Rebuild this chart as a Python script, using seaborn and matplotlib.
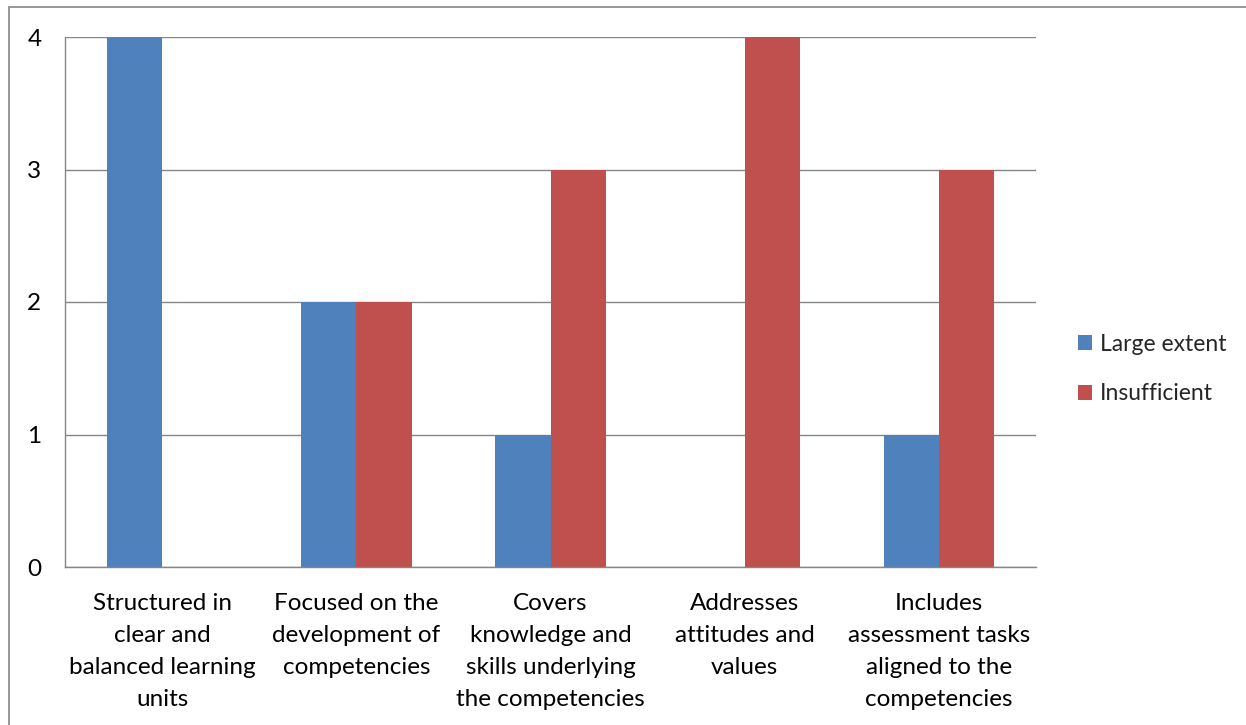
import matplotlib
matplotlib.use("Agg")
import matplotlib.pyplot as plt
from matplotlib.patches import Rectangle
import seaborn as sns
import pandas as pd
import numpy as np

categories = [
    "Structured in\nclear and\nbalanced learning\nunits",
    "Focused on the\ndevelopment of\ncompetencies",
    "Covers\nknowledge and\nskills underlying\nthe competencies",
    "Addresses\nattitudes and\nvalues",
    "Includes\nassessment tasks\naligned to the\ncompetencies",
]
series_names = ["Large extent", "Insufficient"]
large_extent = [4, 2, 1, 0, 1]
insufficient = [0, 2, 3, 4, 3]
y_ticks = [0, 1, 2, 3, 4]

colors = ["#4F81BD", "#C0504D"]
grid_color = "#868686"
font_size = 17.5

sns.set_theme(style="white")
plt.rcParams["font.family"] = ["Lato", "DejaVu Sans"]

df = pd.DataFrame({
    "category": categories * 2,
    "series": [series_names[0]] * len(categories) + [series_names[1]] * len(categories),
    "value": large_extent + insufficient,
})

fig = plt.figure(figsize=(12.46, 7.25), dpi=100)
ax = fig.add_axes([65 / 1246, 1 - 567 / 725, (1036 - 65) / 1246, (567 - 37) / 725])

sns.barplot(data=df, x="category", y="value", hue="series", order=categories,
            hue_order=series_names, palette=colors, width=0.57, gap=0,
            saturation=1, ax=ax, legend=True, edgecolor="none")

ax.set_xlim(-0.5, len(categories) - 0.5)
ax.set_ylim(0, 4)
ax.set_yticks(y_ticks)
ax.set_yticklabels([str(v) for v in y_ticks], fontsize=font_size, color="black")
ax.yaxis.grid(True, color=grid_color, linewidth=1)
ax.set_axisbelow(True)
ax.set_xlabel("")
ax.set_ylabel("")

ax.set_xticks(range(len(categories)))
ax.set_xticklabels(categories, fontsize=font_size, color="black", linespacing=1.63)
ax.set_xticks(np.arange(-0.5, len(categories), 1.0), minor=True)
ax.tick_params(axis="x", which="major", length=0, pad=19)
ax.tick_params(axis="x", which="minor", length=7, width=1, color=grid_color, direction="out")
ax.tick_params(axis="y", which="major", length=7, width=1, color=grid_color, direction="out", pad=10)

for side in ["top", "right"]:
    ax.spines[side].set_visible(False)
for side in ["left", "bottom"]:
    ax.spines[side].set_color(grid_color)
    ax.spines[side].set_linewidth(1)

handles, labels = ax.get_legend_handles_labels()
ax.legend(handles, labels, loc="center left",
          bbox_to_anchor=(1078 / 1246, 1 - 369 / 725), bbox_transform=fig.transFigure,
          borderaxespad=0, borderpad=0,
          frameon=False, fontsize=16.5, handlelength=0.6, handleheight=0.6,
          handletextpad=0.35, labelspacing=1.25)

# outer chart frame
fig.patches.append(Rectangle((9 / 1246, -0.1), 1.2, 1 - 7 / 725 + 0.1,
                             transform=fig.transFigure, fill=False,
                             edgecolor=grid_color, linewidth=1.2))

fig.savefig("out.png", dpi=100)
